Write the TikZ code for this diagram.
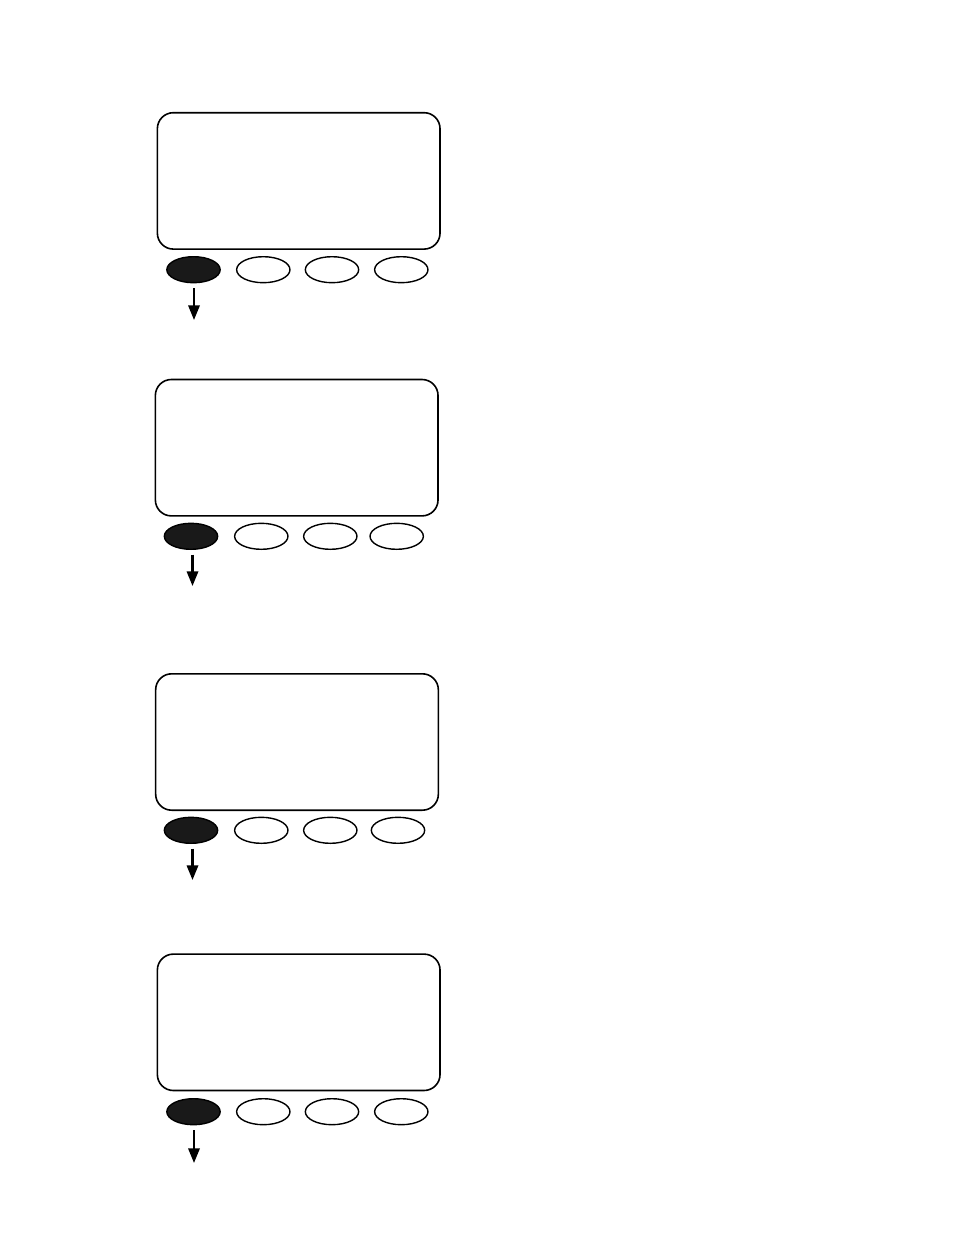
\documentclass[tikz,border=0pt]{standalone}
\usetikzlibrary{shapes.geometric,arrows.meta}
\begin{document}
\begin{tikzpicture}[x=0.75pt,y=-0.75pt,
  screen/.style={draw=black,line width=1.2pt,rounded corners=12pt,minimum width=212pt,minimum height=102.3pt,inner sep=0pt},
  keyoff/.style={draw=black,line width=1.05pt,ellipse,minimum width=40pt,minimum height=19.5pt,inner sep=0pt},
  keyon/.style={keyoff,fill=black!90},
  arr/.style={line width=1.7pt,-{Triangle[length=11pt,width=8.5pt]},shorten <=3.5pt}]
\useasboundingbox (0,0) rectangle (954,1235);
% panel 1
\node[screen] (s1) at (298.7,180.9) {};
\node[keyon] (a1) at (193.5,269.7) {};
\node[keyoff] (b1) at (263.3,269.7) {};
\node[keyoff] (c1) at (332,269.7) {};
\node[keyoff] (d1) at (401.3,269.7) {};
\coordinate (t1) at (194,320);
\draw[arr] (a1.south -| t1) -- (t1);
% panel 2
\node[screen] (s2) at (296.7,447.7) {};
\node[keyon] (a2) at (191,536.3) {};
\node[keyoff] (b2) at (261.3,536.3) {};
\node[keyoff] (c2) at (330.3,536.3) {};
\node[keyoff] (d2) at (396.7,536.3) {};
\coordinate (t2) at (192.5,586);
\draw[arr] (a2.south -| t2) -- (t2);
% panel 3
\node[screen] (s3) at (297,742) {};
\node[keyon] (a3) at (191,830.3) {};
\node[keyoff] (b3) at (261.3,830.3) {};
\node[keyoff] (c3) at (330.3,830.3) {};
\node[keyoff] (d3) at (398,830.3) {};
\coordinate (t3) at (192.5,880);
\draw[arr] (a3.south -| t3) -- (t3);
% panel 4
\node[screen] (s4) at (298.7,1022.3) {};
\node[keyon] (a4) at (193.5,1111.7) {};
\node[keyoff] (b4) at (263.3,1111.7) {};
\node[keyoff] (c4) at (332,1111.7) {};
\node[keyoff] (d4) at (401.3,1111.7) {};
\coordinate (t4) at (194,1163);
\draw[arr] (a4.south -| t4) -- (t4);
\end{tikzpicture}
\end{document}
